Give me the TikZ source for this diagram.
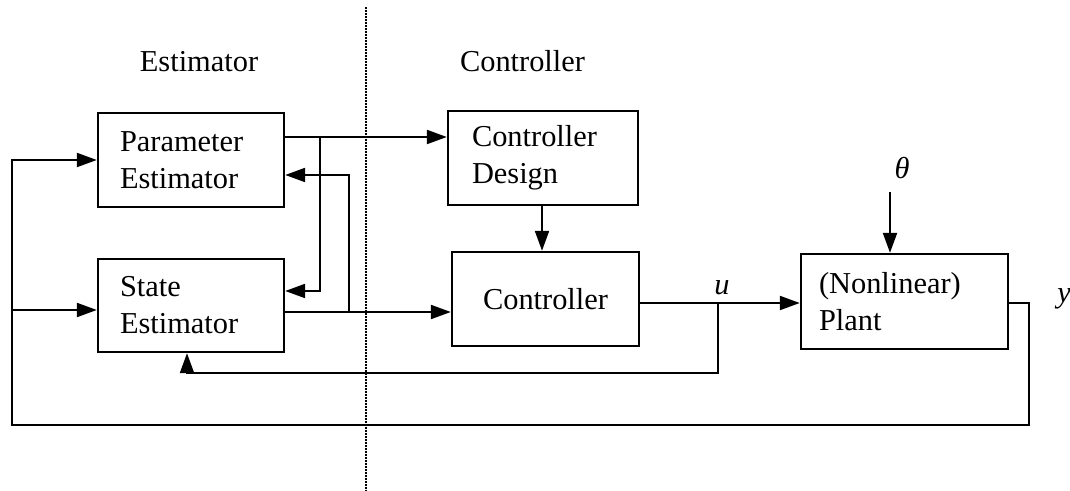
\documentclass[tikz,border=0pt]{standalone}
\usepackage{fontspec}
\setmainfont{Liberation Serif}
\usetikzlibrary{arrows.meta}
\begin{document}
\begin{tikzpicture}[x=0.5pt,y=-0.5pt,
  every node/.style={font=\fontsize{15.2}{18.5}\selectfont},
  blk/.style={draw,line width=1.2pt,minimum height=47pt,inner ysep=0pt},
  lblk/.style={blk,align=left},
  wire/.style={line width=1.1pt},
  arr/.style={wire,-{Triangle[length=10pt,width=7pt]}},
  lbl/.style={inner sep=0pt}]
\useasboundingbox (0,0) rectangle (1070,491);
% divider
\draw[line width=0.8pt,dash pattern=on 0.8pt off 0.7pt] (366,7) -- (366,491);
% headings
\node[lbl,anchor=base] (hEst) at (199,72) {Estimator};
\node[lbl,anchor=base] (hCtl) at (522.5,72) {Controller};
% blocks
\node[lblk,minimum width=93pt,inner xsep=11pt,text width=71pt] (param) at (191,160) {Parameter\\Estimator};
\node[lblk,minimum width=93pt,inner xsep=11pt,text width=71pt,minimum height=46.5pt] (state) at (191,305.5) {State\\Estimator};
\node[lblk,minimum width=95pt,inner xsep=12pt,text width=71pt] (cd) at (543,158) {Controller\\Design};
\node[blk,minimum width=93.5pt] (ctrl) at (545.5,299) {Controller};
\node[lblk,minimum width=103.5pt,inner xsep=9pt,text width=85.5pt,minimum height=47.5pt] (plant) at (904.5,301.5) {(Nonlinear)\\Plant};
% labels
\node[lbl] (theta) at (902,168) {\textit{θ}};
\node[lbl] (ulab) at (722,288) {\textit{u}};
\node[lbl] (ylab) at (1064,299) {\textit{y}};
% coordinates
\coordinate (thTop) at (890,192);
\coordinate (jA) at (320,137);
\coordinate (jB) at (349,312);
\coordinate (jU) at (718,303);
\coordinate (yR) at (1029,303);
\coordinate (bot) at (12,425);
\coordinate (lSt) at (12,310);
\coordinate (uBot) at (187,373);
% connectors
\draw[arr] (param.east |- jA) -- (cd.west |- jA);
\draw[arr] (jA) |- (state.east |- 0,291);
\draw[arr] (state.east |- jB) -- (ctrl.west |- jB);
\draw[arr] (jB) |- (param.east |- 0,175);
\draw[arr] (cd.south -| 542,0) -- (ctrl.north -| 542,0);
\draw[arr] (ctrl.east |- jU) -- (plant.west |- jU);
\draw[arr] (jU) |- (uBot) -- (state.south -| uBot);
\draw[arr] (thTop) -- (plant.north -| thTop);
\draw[arr] (plant.east |- yR) -- (yR) |- (bot) |- (param.west);
\draw[arr] (lSt) -- (state.west |- lSt);
\end{tikzpicture}
\end{document}
